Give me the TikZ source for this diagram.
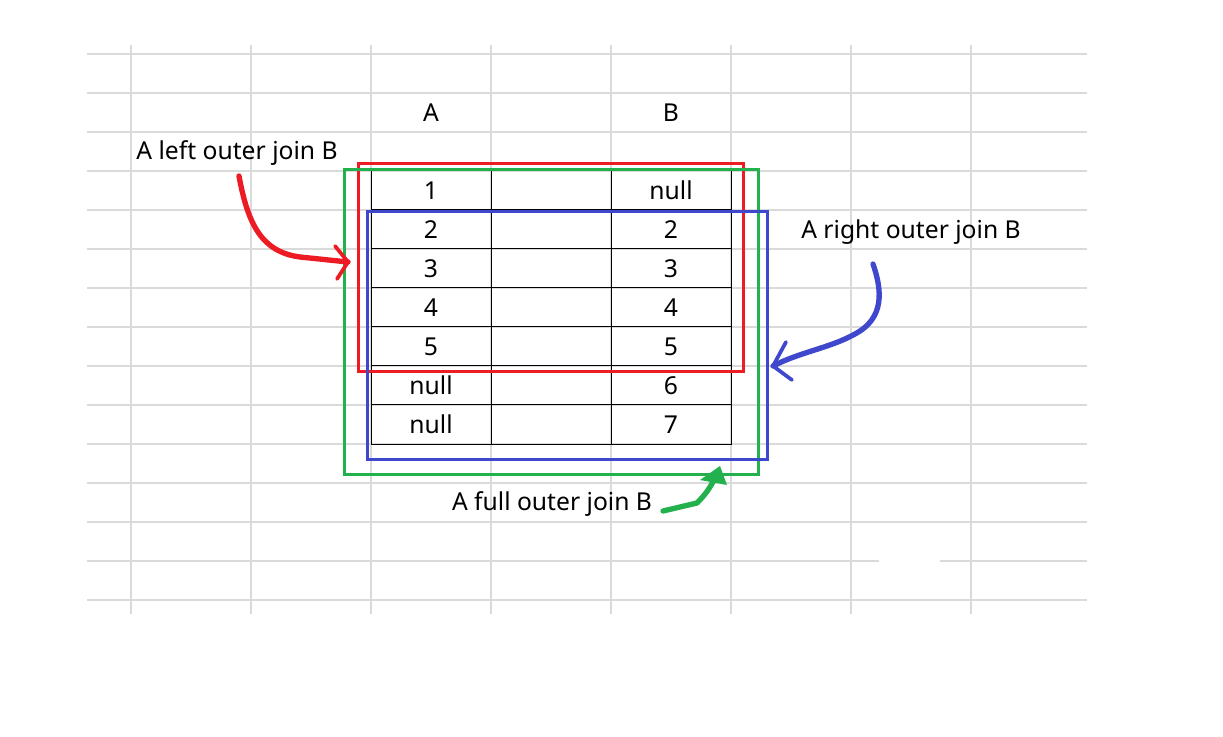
\documentclass[tikz,border=0pt]{standalone}
\usepackage{fontspec}
\setmainfont{Noto Sans}
\definecolor{gridgray}{RGB}{218,218,218}
\definecolor{joinred}{RGB}{237,28,36}
\definecolor{joingreen}{RGB}{34,177,76}
\definecolor{joinblue}{RGB}{63,72,204}
\tikzset{
	gridline/.style={gridgray, line width=0.8pt},
	cellline/.style={black, line width=0.75pt},
	celltext/.style={font=\fontsize{18.5}{22}\selectfont, inner sep=0pt},
	joinbox/.style={line width=2.25pt},
	pen/.style={line width=4pt, line cap=round, line join=round},
}
\begin{document}
\begin{tikzpicture}[>=stealth, x=0.75pt, y=-0.75pt]
		\useasboundingbox (0,0) rectangle (1223,737);
		% spreadsheet grid
		\foreach \y in {54,93,...,600} \draw[gridline] (87,\y) -- (1087,\y);
		\foreach \x in {131,251,...,971} \draw[gridline] (\x,45) -- (\x,614);
		\fill[white] (879,559) rectangle (940,563);
		% column heads
		\node[celltext] (headA) at (431,113) {A};
		\node[celltext] (headB) at (671,113) {B};
		% table
		\foreach \r in {0,...,6}
			\foreach \c in {0,1,2}
				\draw[cellline] (371+120*\c,171+39*\r) rectangle (491+120*\c,210+39*\r);
		\foreach \a/\b [count=\r from 0] in {1/null,2/2,3/3,4/4,5/5,null/6,null/7}{
			\node[celltext] (a\r) at (431,190.5+39*\r) {\a};
			\node[celltext] (b\r) at (671,190.5+39*\r) {\b};
		}
		% join boxes
		\draw[joinbox, joinred] (358,164) rectangle (743,372);
		\draw[joinbox, joingreen] (344,170) rectangle (758,474);
		\draw[joinbox, joinblue] (367,212) rectangle (767,459);
		% labels
		\node[celltext] (leftjoin) at (237,153) {A left outer join B};
		\node[celltext] (rightjoin) at (911,232) {A right outer join B};
		\node[celltext] (fulljoin) at (552,504) {A full outer join B};
		\coordinate (leftstart) at (239,176);
		\coordinate (lefttip) at (348,262);
		\coordinate (rightstart) at (873,264);
		\coordinate (righttip) at (773,366);
		\coordinate (fullstart) at (663,511);
		\coordinate (fulltip) at (720,466);
		% hand drawn arrows
		\draw[pen, joinred] (leftstart) .. controls (248,225) and (262,252) .. (300,257) -- (lefttip);
		\draw[pen, joinred, line width=2.8pt] (335,246) -- (lefttip) -- (337,279);
		\draw[pen, joinblue] (rightstart) .. controls (882,290) and (885,318) .. (855,334) .. controls (830,348) and (800,352) .. (righttip);
		\draw[pen, joinblue, line width=2.8pt] (786,342) -- (righttip) -- (792,380);
		\draw[pen, joingreen] (fullstart) -- (697,503) .. controls (705,495) and (710,488) .. (715,478);
		\fill[joingreen] (700,480) -- (fulltip) -- (727,485) -- cycle;
\end{tikzpicture}
\end{document}
